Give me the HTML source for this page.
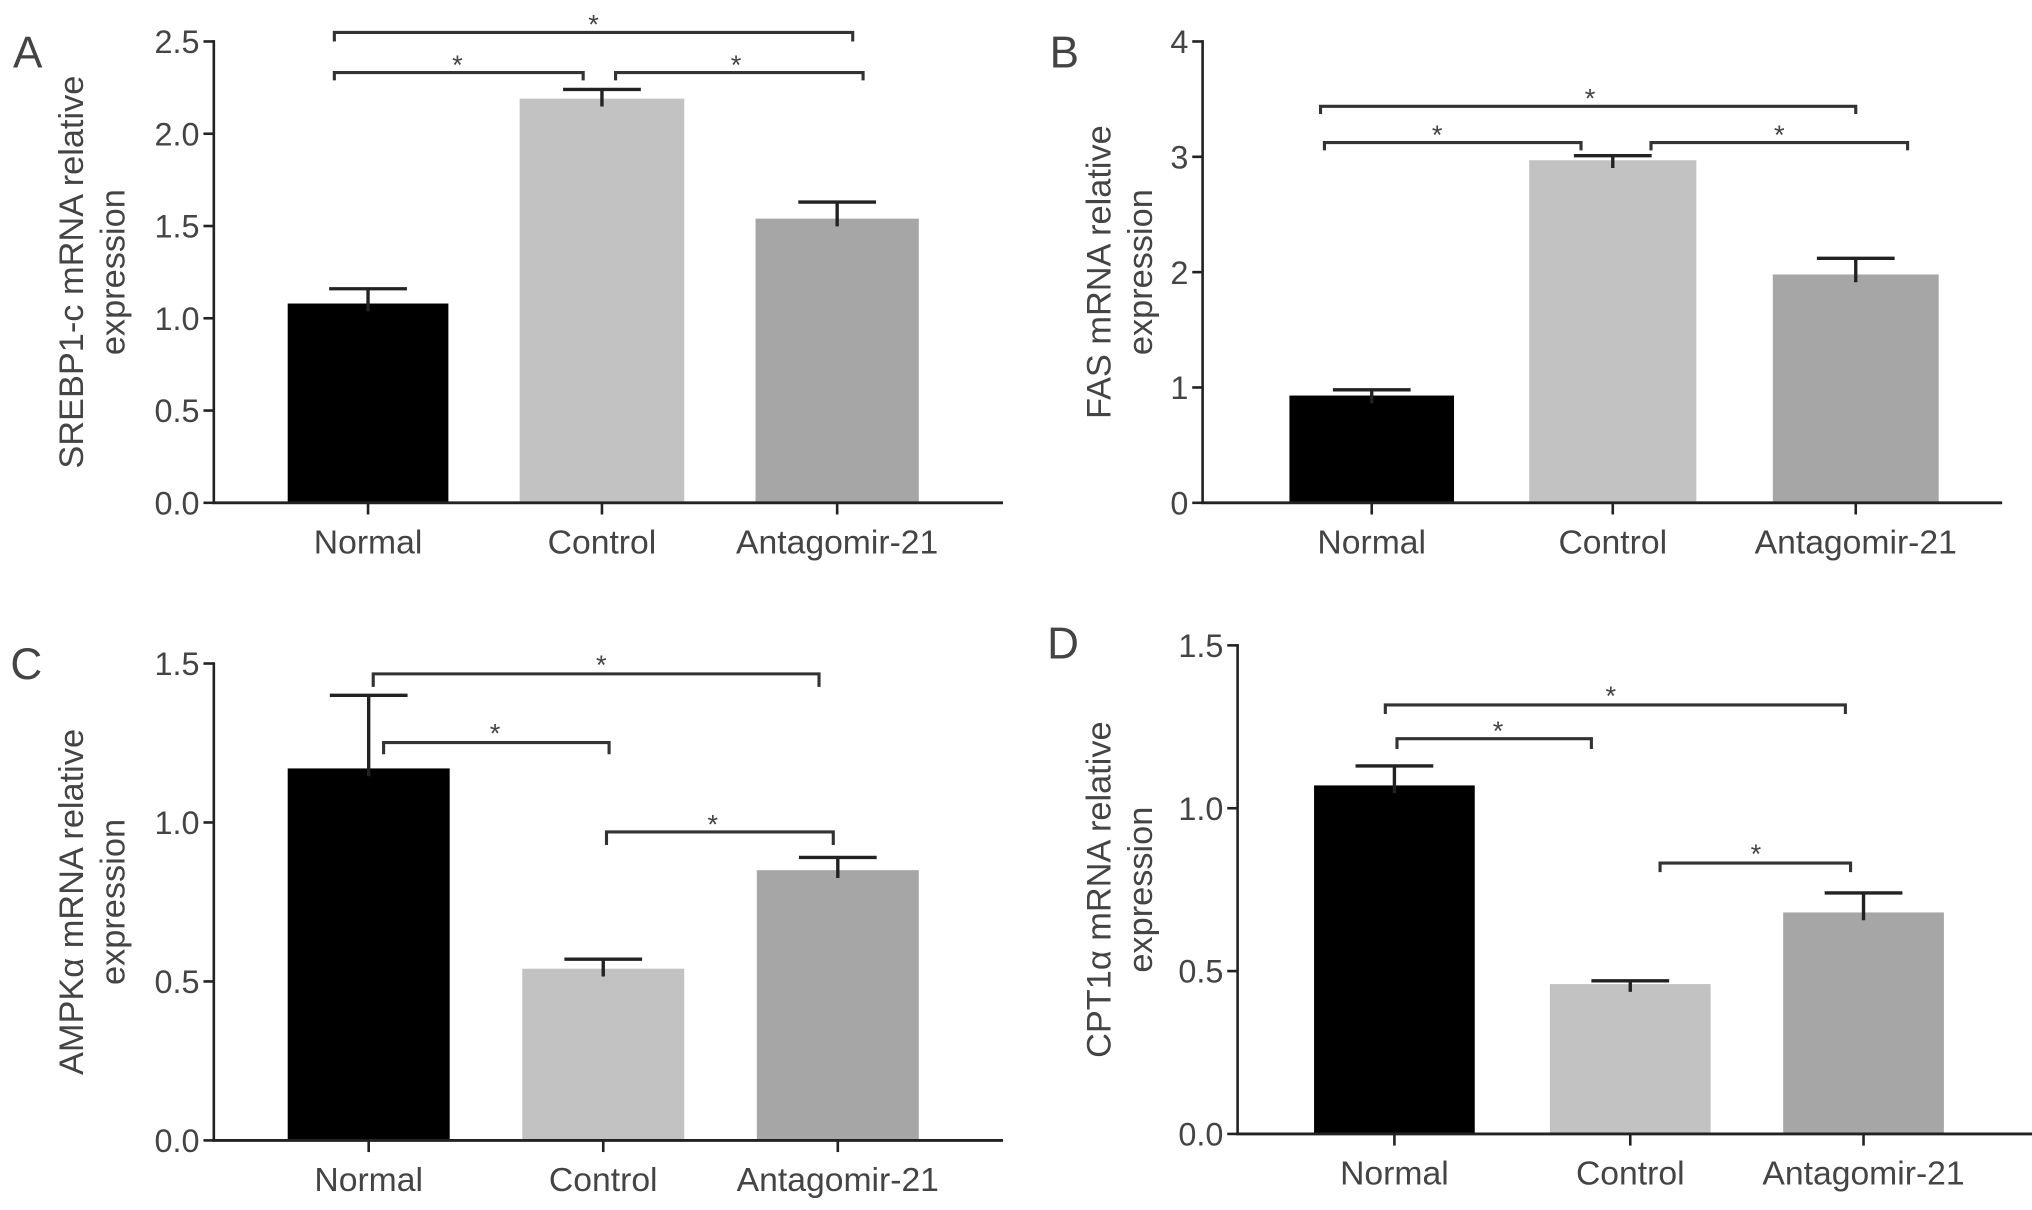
<!DOCTYPE html>
<html><head><meta charset="utf-8"><style>
html,body{margin:0;padding:0;background:#fff;}
svg{display:block;}
text{font-family:"Liberation Sans",sans-serif;fill:#444;}
</style></head>
<body>
<svg id="fig" width="2032" height="1210" viewBox="0 0 1568 933.7" xmlns="http://www.w3.org/2000/svg"></svg>
<script>
const categories = ["Normal","Control","Antagomir-21"];
const valuesA = [1.08, 2.19, 1.54];
const errorsA = [0.08, 0.05, 0.09];
const ticksA = ["0.0","0.5","1.0","1.5","2.0","2.5"];
const valuesB = [0.93, 2.97, 1.98];
const errorsB = [0.05, 0.04, 0.14];
const ticksB = ["0","1","2","3","4"];
const valuesC = [1.17, 0.54, 0.85];
const errorsC = [0.23, 0.03, 0.04];
const ticksC = ["0.0","0.5","1.0","1.5"];
const valuesD = [1.07, 0.46, 0.68];
const errorsD = [0.06, 0.01, 0.06];
const ticksD = ["0.0","0.5","1.0","1.5"];
const colors = ["#000000","#c2c2c2","#a6a6a6"];

const NS="http://www.w3.org/2000/svg";
const svg=document.getElementById('fig');
function mk(tag,attrs,parent){const e=document.createElementNS(NS,tag);for(const k in attrs)e.setAttribute(k,attrs[k]);(parent||svg).appendChild(e);return e;}

const panels=[
 {id:'a',letter:'A',lx:10,ly:52,ax:165,y0:388,yTop:32,xEnd:774,ymax:2.5,ticks:ticksA,vals:valuesA,errs:errorsA,bars:[[222,346],[401,528],[583,709]],ylab:["SREBP1-c mRNA relative","expression"],ylx:[64,96],lblY:427,
  brackets:[[258,658,25,32,458,20],[258,450,56,62,353,51],[475,666,56,62,568,51]]},
 {id:'b',letter:'B',lx:810,ly:52,ax:928,y0:388,yTop:32,xEnd:1545,ymax:4,ticks:ticksB,vals:valuesB,errs:errorsB,bars:[[995,1122],[1180,1309],[1368,1496]],ylab:["FAS mRNA relative","expression"],ylx:[857,889],lblY:427,
  brackets:[[1019,1432,82,88,1227,77],[1022,1220,110,116,1109,105],[1274,1472,110,116,1373,105]]},
 {id:'c',letter:'C',lx:8,ly:524,ax:165,y0:880,yTop:512,xEnd:774,ymax:1.5,ticks:ticksC,vals:valuesC,errs:errorsC,bars:[[222,347],[403,528],[584,709]],ylab:["AMPK\u03b1 mRNA relative","expression"],ylx:[64,96],lblY:919,
  brackets:[[288,632,520,530,464,514],[296,470,573,582,382,567],[468,643,642,652,550,637]]},
 {id:'d',letter:'D',lx:808,ly:508,ax:955,y0:875,yTop:498,xEnd:1568,ymax:1.5,ticks:ticksD,vals:valuesD,errs:errorsD,bars:[[1014,1138],[1196,1320],[1376,1500]],ylab:["CPT1\u03b1 mRNA relative","expression"],ylx:[857,889],lblY:914,
  brackets:[[1069,1424,544,551,1243,538],[1078,1228,570,578,1156,565],[1281,1428,666,673,1355,660]]}
];

panels.forEach(p=>{
 const g=mk('g',{});
 
 
 const Y=v=>p.y0-(v/p.ymax)*(p.y0-p.yTop);
 const L=mk('text',{x:p.lx,y:p.ly,'font-size':34,fill:'#222'},g);L.textContent=p.letter;
 
 
 p.vals.forEach((v,i)=>{
  const [x1,x2]=p.bars[i];
  const r=mk('rect',{x:x1,y:Y(v),width:x2-x1,height:p.y0-Y(v),fill:colors[i]},g);
  
  
  const cx=(x1+x2)/2, top=Y(v+p.errs[i]);
  const e=mk('path',{d:`M${cx} ${Y(v)+6}V${top}M${cx-30} ${top}H${cx+30}`,stroke:'#222','stroke-width':2.6,fill:'none'},g);
  
  
  const tk=mk('line',{x1:cx,x2:cx,y1:p.y0,y2:p.y0+9,stroke:'#222','stroke-width':2},g);
  
  
  const t=mk('text',{x:cx,y:p.lblY,'font-size':26,'text-anchor':'middle'},g);t.textContent=categories[i];
  
  
 });
 const ya=mk('line',{x1:p.ax,x2:p.ax,y1:p.yTop-1,y2:p.y0,stroke:'#222','stroke-width':2},g);
 
 
 const xa=mk('line',{x1:p.ax-1,x2:p.xEnd,y1:p.y0,y2:p.y0,stroke:'#222','stroke-width':2.2},g);
 
 
 p.ticks.forEach((lab,i)=>{
  const v=i*p.ymax/(p.ticks.length-1), y=Y(v);
  const tl=mk('line',{x1:p.ax-8,x2:p.ax,y1:y,y2:y,stroke:'#222','stroke-width':2},g);
  
  
  const t=mk('text',{x:p.ax-11,y:y+9,'font-size':25,'text-anchor':'end'},g);t.textContent=lab;
  
  
 });
 const cy=(p.y0+p.yTop)/2;
 p.ylab.forEach((s,i)=>{
  const t=mk('text',{x:p.ylx[i],y:cy,'font-size':26.5,'text-anchor':'middle',transform:`rotate(-90 ${p.ylx[i]} ${cy})`},g);
  t.textContent=s;
  
  
 });
 p.brackets.forEach(b=>{
  const [x1,x2,y,ye,sx,sy]=b;
  const br=mk('path',{d:`M${x1} ${ye}V${y}H${x2}V${ye}`,stroke:'#333','stroke-width':2.4,fill:'none'},g);
  
  
  const s=mk('text',{x:sx,y:sy+6,'font-size':21,'text-anchor':'middle',fill:'#333'},g);s.textContent='*';
  
  
 });
});
</script>
</body></html>
